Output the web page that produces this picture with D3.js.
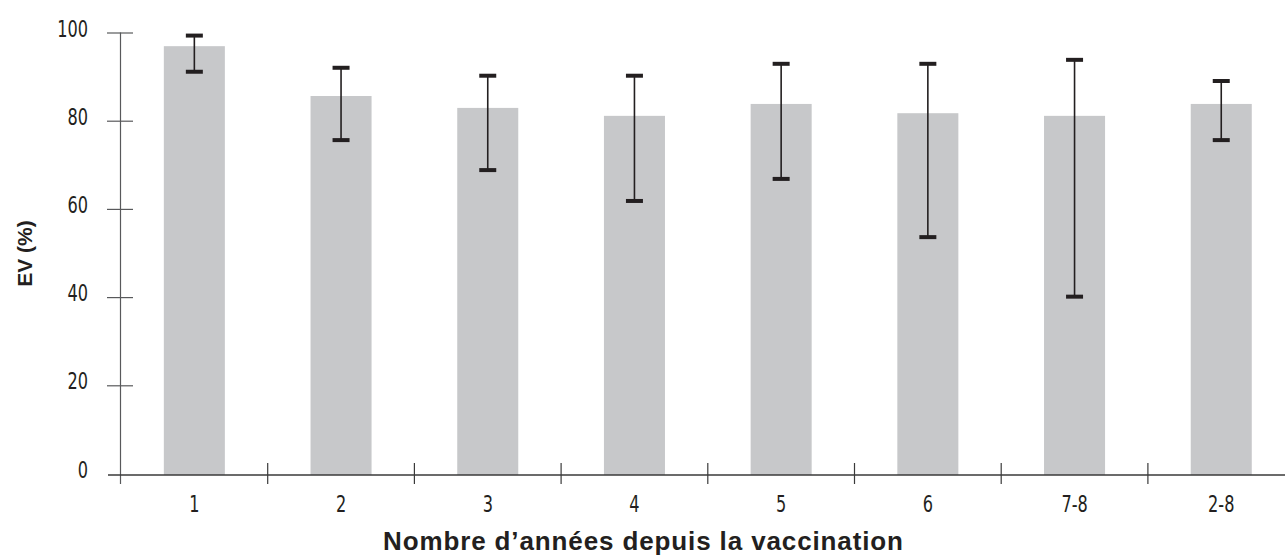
<!DOCTYPE html>
<html>
<head>
<meta charset="utf-8">
<script src="https://cdn.jsdelivr.net/npm/d3@7"></script>
<style>
  body { margin: 0; background: #fff; }
  svg { display: block; }
  .tick-label { font-family: "Liberation Sans Narrow", "DejaVu Sans Condensed", Roboto, sans-serif; font-size: 23px; fill: #231f20; }
  .axis-title { font-family: "Liberation Sans", "Open Sans", sans-serif; font-weight: bold; fill: #231f20; }
</style>
</head>
<body>
<svg id="chart" width="1285" height="560"></svg>
<script>
// data
const categories = ['1', '2', '3', '4', '5', '6', '7-8', '2-8'];
const efficacy = [96.9, 85.6, 82.9, 81.1, 83.8, 81.7, 81.1, 83.8];
const ciLow = [91.1, 75.6, 68.8, 61.8, 66.8, 53.6, 40.1, 75.6];
const ciHigh = [99.3, 92.0, 90.2, 90.2, 92.9, 92.9, 93.8, 89.0];
const yTicks = [0, 20, 40, 60, 80, 100];

const svg = d3.select('#chart');
const squeeze = 0.78; // condensed look for the tick labels

const x = d3.scaleBand().domain(categories).range([121, 1294.6]).paddingInner(0.584).paddingOuter(0.292);
const y = d3.scaleLinear().domain([0, 100]).range([473.5, 32.5]);
const baseline = y(0) + 1.5;

const rows = categories.map((c, i) => ({c, v: efficacy[i], lo: ciLow[i], hi: ciHigh[i]}));

// bars
svg.append('g').selectAll('rect').data(rows).enter().append('rect')
  .attr('x', d => x(d.c))
  .attr('y', d => y(d.v))
  .attr('width', x.bandwidth())
  .attr('height', d => baseline - y(d.v))
  .attr('fill', '#c7c8ca');

// error bars
const err = svg.append('g').selectAll('g').data(rows).enter().append('g')
  .attr('transform', d => `translate(${x(d.c) + x.bandwidth() / 2},0)`);
err.append('line')
  .attr('y1', d => y(d.hi)).attr('y2', d => y(d.lo))
  .attr('stroke', '#231f20').attr('stroke-width', 1.6);
err.selectAll('.cap').data(d => [d.hi, d.lo]).enter().append('line')
  .attr('x1', -8.5).attr('x2', 8.5)
  .attr('y1', v => y(v)).attr('y2', v => y(v))
  .attr('stroke', '#231f20').attr('stroke-width', 4);

// y axis
const yAxis = svg.append('g');
yAxis.append('line').attr('x1', 120.5).attr('x2', 120.5).attr('y1', y(100)).attr('y2', 484)
  .attr('stroke', '#58595b').attr('stroke-width', 1.2);
yAxis.selectAll('.yt').data(yTicks.filter(t => t > 0)).enter().append('line')
  .attr('x1', 107).attr('x2', 133)
  .attr('y1', d => y(d) + 0.5).attr('y2', d => y(d) + 0.5)
  .attr('stroke', '#58595b').attr('stroke-width', 1.2);
yAxis.selectAll('text').data(yTicks).enter().append('text')
  .attr('class', 'tick-label')
  .attr('transform', d => `translate(88,${y(d) - 4}) scale(${squeeze},1)`)
  .attr('dy', '0.35em')
  .attr('text-anchor', 'end')
  .text(d => d);

// x axis (also carries the 0 tick of the y axis)
const xAxis = svg.append('g');
xAxis.append('line').attr('x1', 108).attr('x2', 1285).attr('y1', baseline).attr('y2', baseline)
  .attr('stroke', '#3a3a3a').attr('stroke-width', 1.4);
const bounds = d3.range(1, categories.length).map(i => x.range()[0] + i * x.step());
xAxis.selectAll('.xt').data(bounds).enter().append('line')
  .attr('x1', d => d).attr('x2', d => d)
  .attr('y1', 463).attr('y2', 484)
  .attr('stroke', '#3a3a3a').attr('stroke-width', 1.2);
xAxis.selectAll('text').data(categories).enter().append('text')
  .attr('class', 'tick-label')
  .attr('transform', d => `translate(${x(d) + x.bandwidth() / 2},512) scale(${squeeze},1)`)
  .attr('text-anchor', 'middle')
  .text(d => d);

// titles
svg.append('text').attr('class', 'axis-title')
  .attr('x', 643).attr('y', 550)
  .attr('text-anchor', 'middle')
  .attr('textLength', 520).attr('lengthAdjust', 'spacing')
  .style('font-size', '26px')
  .text('Nombre d’années depuis la vaccination');
svg.append('text').attr('class', 'axis-title')
  .attr('transform', 'translate(32,253.5) rotate(-90)')
  .attr('text-anchor', 'middle')
  .style('font-size', '21px')
  .text('EV (%)');
</script>
</body>
</html>
